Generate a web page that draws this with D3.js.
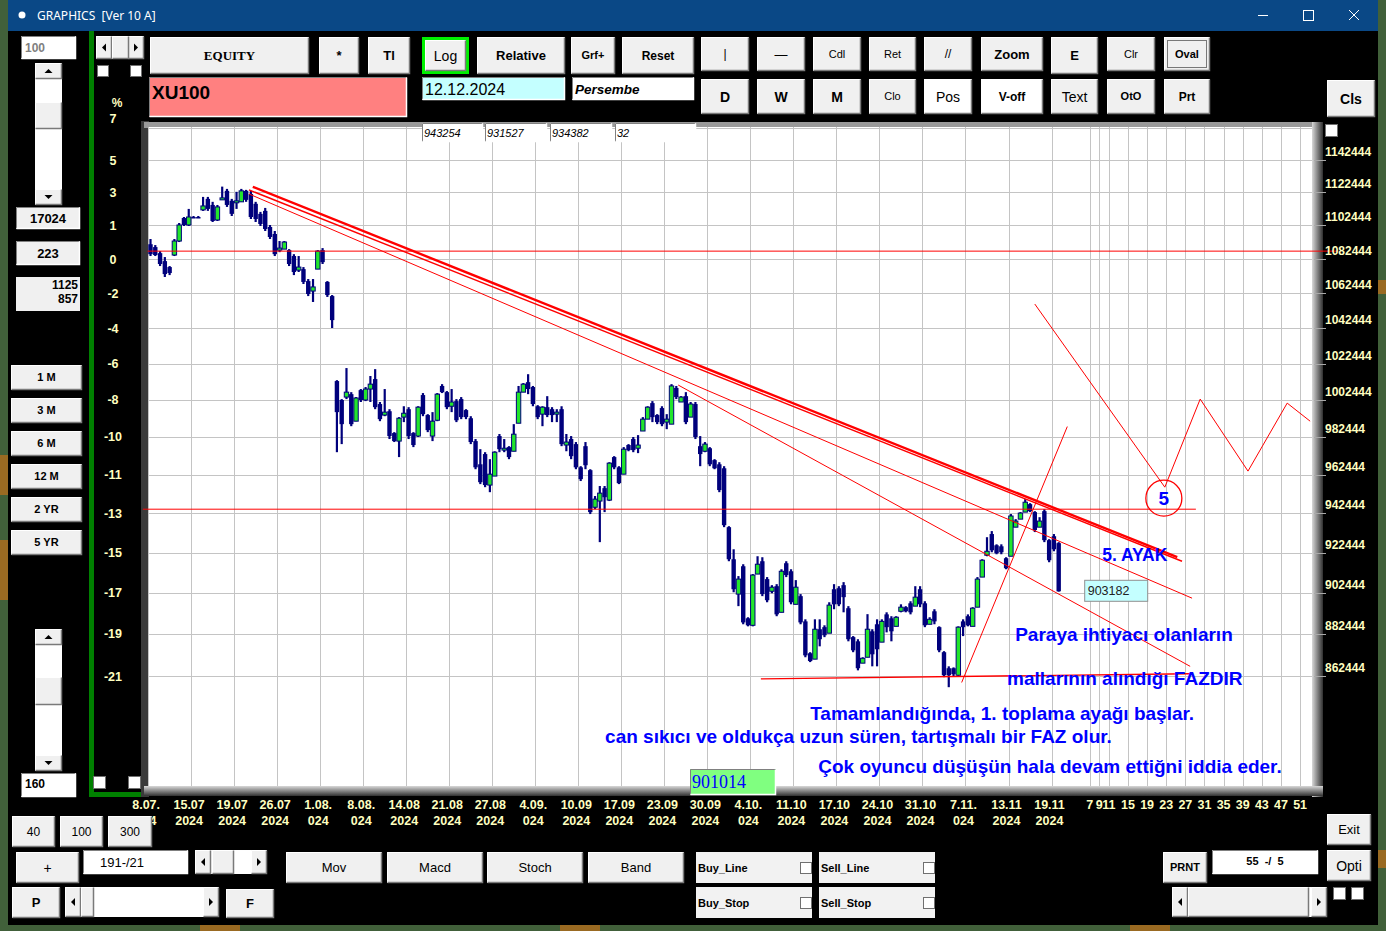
<!DOCTYPE html>
<html>
<head>
<meta charset="utf-8">
<script src="https://cdn.jsdelivr.net/npm/d3@7"></script>
<style>
  body { margin: 0; background: #3f5e37; overflow: hidden; }
  svg { display: block; }
  text { font-family: "Liberation Sans", Arial, sans-serif; }
</style>
</head>
<body>
<svg width="1386" height="931"></svg>
<script>
// ---- data (prices in thousands of index points, half-day bars) ----
const opens = [1091.2,1089.5,1085.9,1081.2,1077.7,1084.8,1093.1,1106.9,1102.7,1107.5,
  1107.5,1111.8,1118.5,1114.8,1105.7,1117.9,1123.4,1117.3,1116.1,1116.7,
  1123.4,1121.5,1115.5,1109.4,1111.2,1101.5,1097.3,1087.7,1088.3,1087.7,
  1084.2,1075.9,1076.5,1069.5,1063.7,1076.5,1087.7,1069.0,1060.8,1012.8,
  1002.4,1004.0,1005.6,990.9,1007.8,1002.4,1008.4,1013.9,1000.2,994.2,
  996.3,984.5,980.2,993.1,997.4,984.5,982.9,1005.1,994.2,982.9,
  991.4,1010.1,1006.7,999.0,1001.8,1002.9,996.9,992.5,980.2,967.9,
  973.3,957.0,961.7,982.9,975.4,977.0,974.8,989.8,1006.7,1012.2,
  1009.5,999.0,994.7,998.5,997.4,994.7,997.4,978.1,981.3,978.6,
  966.3,977.5,964.8,945.5,948.7,955.4,949.2,971.7,966.3,962.7,
  978.1,981.3,976.4,985.6,992.0,1000.7,994.2,998.0,990.4,989.3,
  1009.0,1001.3,1004.5,993.1,1000.2,977.5,974.8,976.4,970.1,967.9,
  965.8,935.3,919.1,901.8,915.6,890.0,886.6,911.7,918.1,909.2,
  903.2,905.7,892.9,917.1,913.1,896.8,900.8,888.5,873.2,870.4,
  884.7,885.7,882.8,904.2,904.7,906.2,894.9,880.9,878.9,868.5,
  871.3,883.7,887.1,878.5,891.9,890.0,886.1,893.4,895.4,897.3,
  895.9,904.2,897.3,887.1,893.4,885.7,873.7,866.1,866.1,862.8,
  888.5,891.0,886.1,895.4,910.2,921.1,931.8,926.1,925.6,919.6,
  920.6,935.3,939.4,943.0,947.1,943.0,935.3,943.5,928.7,930.7,
  927.2];
const highs = [1094.3,1090.7,1087.1,1083.6,1078.3,1094.3,1103.9,1107.5,1112.4,1108.1,
  1108.1,1119.7,1119.7,1116.7,1114.8,1126.0,1124.6,1118.5,1122.8,1124.6,
  1124.0,1123.4,1116.7,1110.6,1113.0,1102.7,1099.1,1093.1,1093.1,1088.3,
  1085.3,1084.2,1077.7,1070.7,1070.7,1087.7,1088.9,1069.5,1061.4,1013.3,
  1002.9,1020.0,1006.7,1004.0,1008.4,1009.5,1015.6,1019.4,1001.3,1008.4,
  997.4,985.0,993.1,999.0,998.5,985.0,999.0,1006.2,994.7,995.8,
  1006.2,1011.1,1007.3,1008.4,1002.9,1004.0,997.4,993.6,981.3,975.9,
  974.3,970.6,974.8,984.0,981.3,977.5,989.3,1010.1,1011.7,1016.6,
  1010.1,999.6,999.0,1004.5,998.5,997.4,999.0,984.0,982.9,979.7,
  966.9,979.7,965.3,951.3,956.5,956.5,969.0,972.2,966.9,977.0,
  978.6,982.4,983.4,993.1,999.0,1001.8,994.7,999.0,994.7,1011.1,
  1010.1,1004.5,1006.7,1001.3,1001.3,982.9,979.7,977.0,970.6,969.0,
  966.9,935.8,924.1,910.7,916.6,890.5,911.7,920.6,920.1,910.2,
  906.2,906.7,914.1,918.1,914.1,908.7,901.8,889.5,873.7,889.5,
  889.5,886.6,897.8,906.7,905.7,907.7,895.9,881.4,879.9,871.3,
  892.0,884.7,889.5,889.5,892.9,891.0,891.0,896.8,895.9,898.3,
  905.7,905.7,898.3,890.5,894.4,886.1,874.2,867.0,866.5,886.1,
  889.5,891.9,895.4,910.2,919.1,930.2,933.3,926.6,926.6,920.1,
  942.0,939.4,943.0,949.7,947.6,943.5,940.4,944.5,929.2,931.8,
  927.7];
const lows = [1084.2,1084.2,1078.3,1071.9,1073.0,1084.2,1092.5,1102.1,1102.1,1106.9,
  1106.9,1111.2,1111.2,1104.5,1105.1,1117.9,1113.6,1108.1,1112.4,1116.7,
  1116.7,1106.3,1104.5,1102.1,1099.1,1094.3,1084.2,1086.5,1088.3,1078.3,
  1073.0,1074.8,1067.8,1060.8,1057.4,1076.5,1079.5,1060.3,1042.5,974.3,
  978.6,1002.9,988.2,990.9,1001.3,1001.8,1001.3,997.4,990.9,993.6,
  981.3,979.7,971.7,990.4,981.3,977.0,982.4,993.6,985.0,980.2,
  990.9,1006.2,997.4,995.8,990.4,992.0,992.0,978.6,965.3,957.5,
  955.9,953.3,961.7,974.3,974.3,970.6,974.8,989.8,1006.7,1005.6,
  999.0,992.0,988.2,993.1,990.4,990.4,977.5,974.8,970.6,965.3,
  959.1,965.3,942.0,944.5,927.7,943.0,948.7,965.3,957.5,962.7,
  974.8,974.3,973.8,985.6,992.0,990.4,989.3,988.2,986.6,989.3,
  1002.9,1001.3,989.3,993.1,981.3,966.9,974.3,966.9,965.3,953.3,
  935.3,918.1,902.7,895.9,887.1,886.1,886.1,911.7,900.8,897.8,
  902.2,891.0,892.9,910.2,896.8,896.8,887.1,871.3,869.0,870.4,
  876.5,880.9,882.8,894.4,895.9,892.9,878.9,873.7,865.1,868.5,
  871.3,867.0,867.0,878.5,883.2,878.9,886.1,892.9,892.9,891.9,
  895.9,895.4,885.7,887.1,887.1,873.7,861.9,857.2,862.3,862.3,
  881.4,886.1,886.1,895.4,910.2,920.6,922.6,921.6,921.6,914.1,
  920.6,935.3,939.4,943.0,943.0,932.8,935.3,927.7,917.6,923.1,
  903.0];
const closes = [1085.3,1084.8,1079.5,1073.6,1074.2,1093.1,1102.7,1102.7,1107.5,1107.5,
  1107.5,1114.2,1112.4,1105.1,1113.6,1119.1,1114.8,1109.4,1117.3,1123.4,
  1117.9,1107.5,1106.3,1103.3,1100.3,1095.5,1085.3,1088.9,1092.5,1079.5,
  1074.8,1077.7,1069.0,1062.0,1066.1,1087.1,1080.6,1061.4,1047.0,995.8,
  989.3,1006.7,989.3,1003.5,1002.4,1008.4,1011.1,998.5,992.0,995.8,
  982.9,980.2,992.5,995.2,982.9,978.1,998.5,994.7,986.1,990.9,
  1005.6,1006.7,998.5,1001.3,991.4,993.1,993.1,979.7,966.3,958.5,
  957.0,962.7,974.3,975.9,976.4,971.7,983.9,1006.7,1011.1,1008.4,
  1000.2,993.1,998.5,994.2,994.2,995.8,978.6,979.7,972.2,966.3,
  960.1,967.4,943.0,949.7,952.8,950.7,968.5,966.3,958.0,975.9,
  975.4,975.4,978.1,992.0,998.5,993.1,990.4,989.3,992.0,1010.1,
  1004.0,1004.0,990.4,1000.2,982.4,973.3,978.6,967.9,965.8,954.4,
  936.3,919.1,904.2,909.2,888.0,886.6,911.2,916.6,901.8,898.8,
  905.2,891.9,913.1,911.2,897.8,905.2,888.0,872.2,869.5,884.7,
  879.9,881.8,896.4,896.8,896.8,900.3,879.9,874.6,866.1,870.8,
  884.7,872.7,875.1,888.5,885.7,883.7,890.5,895.4,893.4,892.9,
  900.3,896.8,886.6,889.5,888.5,874.6,862.8,862.8,863.3,885.7,
  885.7,886.6,894.9,909.2,918.6,923.1,923.6,922.1,922.6,914.6,
  941.0,938.4,942.5,948.1,943.5,933.8,938.4,928.7,918.6,924.1,
  903.182];

const dayLabels = ["8.07.","15.07","19.07","26.07","1.08.","8.08.","14.08","21.08","27.08","4.09.","10.09",
  "17.09","23.09","30.09","4.10.","11.10","17.10","24.10","31.10","7.11.","13.11","19.11"];
const yearLabels = ["024","2024","2024","2024","024","024","2024","2024","2024","024","2024",
  "2024","2024","2024","024","2024","2024","2024","2024","024","2024","2024"];
const futureBars = [7, 9, 11, 15, 19, 23, 27, 31, 35, 39, 43, 47, 51];
const priceTicks = [1142444,1122444,1102444,1082444,1062444,1042444,1022444,1002444,
  982444,962444,942444,922444,902444,882444,862444];
const pctLevels = [1162444].concat(priceTicks);
const pctLabels = ["7","5","3","1","0","-2","-4","-6","-8","-10","-11","-13","-15","-17","-19","-21"];

// user drawn objects: [bar index, price]
const trendThick = [[21.4, 1125900], [214.8, 920100]];
const trendThin1 = [[20.6, 1124000], [215.8, 918100]];
const trendThin2 = [[20.6, 1121500], [217.9, 899800]];
const trendLow = [[110.4, 1010600], [217.5, 867000]];
const riseLine = [[169.7, 859400], [191.8, 988000]];
const supportLine = [[127.7, 861100], [217.5, 863500]];
const levelTop = [[-0.6, 1087100], [248.3, 1087100]];
const levelMid = [[-1.6, 944500], [218.7, 944500]];
const forecast = [[185.0, 1056200], [212.2, 955900], [219.6, 1002900], [229.6, 964300],
  [237.8, 1000700], [242.6, 990900]];
const waveMark = { i: 212.0, p: 950200, label: "5" };
const notes = [
  { i: 199.1, p: 918100, text: "5. AYAK", size: 17.5 },
  { i: 180.9, p: 878900, text: "Paraya ihtiyacı olanların", size: 19 },
  { i: 179.2, p: 858300, text: "mallarının alındığı FAZDIR", size: 19 },
  { i: 138.0, p: 841900, text: "Tamamlandığında, 1. toplama ayağı başlar.", size: 19 },
  { i: 95.1, p: 831600, text: "can sıkıcı ve oldukça uzun süren, tartışmalı bir FAZ olur.", size: 19 },
  { i: 139.7, p: 818100, text: "Çok oyuncu düşüşün hala devam ettiğni iddia eder.", size: 19 }
];

const NAVY = "#00007c", GREEN = "#22e52c", RED = "#ff0000", PALE = "#ffffc0", BLUE = "#0000ff";
const plotL = 148, plotR = 1312, plotT = 127, plotB = 786;

const svg = d3.select("svg");

const xScale = d3.scaleLinear().domain([0, 190]).range([150.5, 150.5 + 190 * 4.78]);
const yScale = d3.scaleLog().domain([862444, 1142444]).range([676, 160]);

// ---- desktop + window ----
svg.append("rect").attr("width", 1386).attr("height", 931).attr("fill", "#41603a");
[[0, 455, 8, 40], [0, 540, 8, 60], [1378, 280, 8, 14], [1378, 850, 8, 18], [200, 925, 40, 6], [560, 925, 40, 6], [1130, 925, 40, 6]]
  .forEach(r => svg.append("rect").attr("x", r[0]).attr("y", r[1]).attr("width", r[2]).attr("height", r[3]).attr("fill", "#9a6a22"));
svg.append("rect").attr("x", 8).attr("y", 0).attr("width", 1370).attr("height", 925).attr("fill", "#000");
svg.append("rect").attr("x", 8).attr("y", 0).attr("width", 1370).attr("height", 31).attr("fill", "#0a4886");
svg.append("circle").attr("cx", 22).attr("cy", 15).attr("r", 3.5).attr("fill", "#fff");
svg.append("text").attr("x", 37).attr("y", 20).attr("fill", "#fff").style("font-size", "12px")
  .style("font-family", "'Noto Sans', sans-serif").style("white-space", "pre").text("GRAPHICS  [Ver 10 A]");
svg.append("line").attr("x1", 1258).attr("x2", 1268).attr("y1", 15.5).attr("y2", 15.5).attr("stroke", "#fff");
svg.append("rect").attr("x", 1303.5).attr("y", 10.5).attr("width", 10).attr("height", 10).attr("fill", "none").attr("stroke", "#fff");
svg.append("path").attr("d", "M1349,10L1359,20M1359,10L1349,20").attr("stroke", "#fff");

// green frame on the left
svg.append("rect").attr("x", 89).attr("y", 31).attr("width", 5).attr("height", 766).attr("fill", "#008000");
svg.append("rect").attr("x", 89).attr("y", 792).attr("width", 56).attr("height", 5).attr("fill", "#008000");

// ---- chart frame ----
const defs = svg.append("defs");
const gr = defs.append("linearGradient").attr("id", "shadeR");
gr.append("stop").attr("offset", "0").attr("stop-color", "#d8d8d8");
gr.append("stop").attr("offset", "1").attr("stop-color", "#303030");
const gb = defs.append("linearGradient").attr("id", "shadeB").attr("x1", 0).attr("x2", 0).attr("y1", 0).attr("y2", 1);
gb.append("stop").attr("offset", "0").attr("stop-color", "#d8d8d8");
gb.append("stop").attr("offset", "1").attr("stop-color", "#303030");
defs.append("clipPath").attr("id", "plotClip").append("rect")
  .attr("x", plotL).attr("y", plotT).attr("width", plotR - plotL).attr("height", plotB - plotT);

svg.append("rect").attr("x", 141).attr("y", 121).attr("width", 8).attr("height", 676).attr("fill", "#3a3a3a");
svg.append("rect").attr("x", 144).attr("y", 122).attr("width", 1176).attr("height", 6).attr("fill", "#9a9a9a");
svg.append("rect").attr("x", plotR).attr("y", 122).attr("width", 11).attr("height", 675).attr("fill", "url(#shadeR)");
svg.append("rect").attr("x", 144).attr("y", plotB).attr("width", 1179).attr("height", 10).attr("fill", "url(#shadeB)");
svg.append("rect").attr("x", plotL).attr("y", plotT).attr("width", plotR - plotL).attr("height", plotB - plotT).attr("fill", "#fff");

const plot = svg.append("g").attr("clip-path", "url(#plotClip)");

// grid
const gridX = dayLabels.map((d, k) => xScale(9 * k - 0.5)).concat(futureBars.map(n => xScale(190 + n - 0.5)));
plot.selectAll(".vgrid").data(gridX).join("line").attr("class", "vgrid")
  .attr("x1", d => Math.round(d) + 0.5).attr("x2", d => Math.round(d) + 0.5)
  .attr("y1", plotT).attr("y2", plotB).attr("stroke", "#c4c4c4");
plot.selectAll(".hgrid").data(pctLevels).join("line").attr("class", "hgrid")
  .attr("x1", plotL).attr("x2", plotR)
  .attr("y1", d => Math.round(yScale(d)) + 0.5).attr("y2", d => Math.round(yScale(d)) + 0.5)
  .attr("stroke", "#c4c4c4");

// candles
const candles = closes.map((c, i) => ({ i, o: opens[i] * 1000, h: highs[i] * 1000, l: lows[i] * 1000, c: c * 1000 }));
plot.selectAll(".wick").data(candles).join("line").attr("class", "wick")
  .attr("x1", d => xScale(d.i)).attr("x2", d => xScale(d.i))
  .attr("y1", d => yScale(d.h)).attr("y2", d => yScale(d.l))
  .attr("stroke", NAVY).attr("stroke-width", 2.2);
plot.selectAll(".body").data(candles).join("rect").attr("class", "body")
  .attr("x", d => xScale(d.i) - 2.2).attr("width", 4.4)
  .attr("y", d => yScale(Math.max(d.o, d.c)))
  .attr("height", d => Math.max(1.5, Math.abs(yScale(d.o) - yScale(d.c))))
  .attr("fill", d => d.c > d.o ? GREEN : NAVY)
  .attr("stroke", NAVY).attr("stroke-width", d => d.c > d.o ? 1 : 0);

// user drawings
const line = d3.line().x(d => xScale(d[0])).y(d => yScale(d[1]));
const over = svg.append("g");
over.append("path").datum(levelTop).attr("d", line).attr("stroke", RED).attr("fill", "none");
over.append("path").datum(levelMid).attr("d", line).attr("stroke", RED).attr("fill", "none");
[[trendThick, 2.4], [trendThin1, 1.4], [trendThin2, 1], [trendLow, 1], [riseLine, 1], [supportLine, 1.4], [forecast, 1]]
  .forEach(([pts, w]) => plot.append("path").datum(pts).attr("d", line)
    .attr("stroke", RED).attr("stroke-width", w).attr("fill", "none"));
plot.append("circle").attr("cx", xScale(waveMark.i)).attr("cy", yScale(waveMark.p)).attr("r", 18)
  .attr("fill", "none").attr("stroke", RED).attr("stroke-width", 1.3);
plot.append("text").attr("x", xScale(waveMark.i)).attr("y", yScale(waveMark.p) + 7)
  .attr("text-anchor", "middle").attr("fill", BLUE).style("font-size", "19px").style("font-weight", "bold")
  .text(waveMark.label);
plot.selectAll(".note").data(notes).join("text").attr("class", "note")
  .attr("x", d => xScale(d.i)).attr("y", d => yScale(d.p))
  .attr("fill", BLUE).style("font-size", d => d.size + "px").style("font-weight", "bold")
  .text(d => d.text);

// last price box
const last = candles[candles.length - 1];
const lbx = xScale(last.i) + 26, lby = yScale(last.c);
svg.append("rect").attr("x", lbx).attr("y", lby - 11).attr("width", 63).attr("height", 21)
  .attr("fill", "#c4ffff").attr("stroke", "#909090");
svg.append("text").attr("x", lbx + 3).attr("y", lby + 4).style("font-size", "12.5px").attr("fill", "#222")
  .text(d3.format("d")(Math.round(last.c)));

// ---- axes ----
svg.selectAll(".rtick").data(priceTicks).join("line").attr("class", "rtick")
  .attr("x1", plotR + 2).attr("x2", 1326)
  .attr("y1", d => Math.round(yScale(d)) + 0.5).attr("y2", d => Math.round(yScale(d)) + 0.5)
  .attr("stroke", "#a8a8a8");
svg.selectAll(".rlab").data(priceTicks).join("text").attr("class", "rlab")
  .attr("x", 1325).attr("y", d => yScale(d) - 4)
  .attr("fill", PALE).style("font-size", "12px").style("font-weight", "bold")
  .text(d => d);
svg.selectAll(".plab").data(pctLevels).join("text").attr("class", "plab")
  .attr("x", 113).attr("y", (d, k) => yScale(d) + (k === 0 ? -5 : 4.5))
  .attr("text-anchor", "middle").attr("fill", PALE).style("font-size", "12.5px").style("font-weight", "bold")
  .text((d, k) => pctLabels[k]);
svg.append("text").attr("x", 117).attr("y", 107).attr("text-anchor", "middle").attr("fill", PALE)
  .style("font-size", "12px").style("font-weight", "bold").text("%");

svg.selectAll(".dlab").data(dayLabels).join("text").attr("class", "dlab")
  .attr("x", (d, k) => xScale(9 * k - 0.5) - 2).attr("y", 809)
  .attr("text-anchor", "middle").attr("fill", PALE).style("font-size", "12.5px").style("font-weight", "bold")
  .text(d => d);
svg.selectAll(".ylab").data(yearLabels).join("text").attr("class", "ylab")
  .attr("x", (d, k) => xScale(9 * k - 0.5) - 2).attr("y", 825)
  .attr("text-anchor", "middle").attr("fill", PALE).style("font-size", "12.5px").style("font-weight", "bold")
  .text(d => d);
svg.selectAll(".flab").data(futureBars).join("text").attr("class", "flab")
  .attr("x", d => xScale(190 + d - 0.5)).attr("y", 809)
  .attr("text-anchor", "middle").attr("fill", PALE).style("font-size", "12.5px").style("font-weight", "bold")
  .text(d => d);

// ---- window controls ----
const ui = svg.append("g");
function bevel(x, y, w, h, fill, sunken) {
  ui.append("rect").attr("x", x).attr("y", y).attr("width", w).attr("height", h).attr("fill", fill);
  const a = sunken ? "#808080" : "#ffffff", b = sunken ? "#ffffff" : "#7a7a7a";
  ui.append("path").attr("d", `M${x + 0.5},${y + h - 0.5}V${y + 0.5}H${x + w - 0.5}`).attr("stroke", a).attr("fill", "none");
  ui.append("path").attr("d", `M${x + 0.5},${y + h - 0.5}H${x + w - 0.5}V${y + 0.5}`).attr("stroke", b).attr("stroke-width", 1.5).attr("fill", "none");
}
function label(x, y, txt, o = {}) {
  ui.append("text").attr("x", x).attr("y", y).attr("text-anchor", o.anchor || "middle")
    .attr("fill", o.color || "#000").style("font-size", (o.size || 13) + "px")
    .style("font-weight", o.weight || "bold").style("font-style", o.style || "normal")
    .style("font-family", o.family || null).style("white-space", "pre").text(txt);
}
function button(x1, y1, x2, y2, txt, o = {}) {
  bevel(x1, y1, x2 - x1, y2 - y1, o.fill || "#f0f0f0", false);
  label((x1 + x2) / 2, (y1 + y2) / 2 + (o.size || 13) * 0.36, txt, o);
}
function box(x1, y1, x2, y2, fill) { bevel(x1, y1, x2 - x1, y2 - y1, fill, true); }
function check(x, y, s) {
  ui.append("rect").attr("x", x + 0.5).attr("y", y + 0.5).attr("width", s).attr("height", s)
    .attr("fill", "#fff").attr("stroke", "#707070");
}
function arrowBtn(x, y, w, h, dir) {
  bevel(x, y, w, h, "#f0f0f0", false);
  const cx = x + w / 2, cy = y + h / 2;
  const d = dir === "l" ? `M${cx + 2},${cy - 4}L${cx - 2},${cy}L${cx + 2},${cy + 4}Z`
    : dir === "r" ? `M${cx - 2},${cy - 4}L${cx + 2},${cy}L${cx - 2},${cy + 4}Z`
    : dir === "u" ? `M${cx - 4},${cy + 2}L${cx},${cy - 2}L${cx + 4},${cy + 2}Z`
    : `M${cx - 4},${cy - 2}L${cx},${cy + 2}L${cx + 4},${cy - 2}Z`;
  ui.append("path").attr("d", d).attr("fill", "#000");
}
function hscroll(x1, y1, x2, y2, t1, t2) {
  ui.append("rect").attr("x", x1).attr("y", y1).attr("width", x2 - x1).attr("height", y2 - y1).attr("fill", "#fff");
  arrowBtn(x1, y1, 16, y2 - y1, "l");
  arrowBtn(x2 - 16, y1, 16, y2 - y1, "r");
  bevel(t1, y1, t2 - t1, y2 - y1, "#f0f0f0", false);
}
function vscroll(x1, y1, x2, y2, t1, t2) {
  ui.append("rect").attr("x", x1).attr("y", y1).attr("width", x2 - x1).attr("height", y2 - y1).attr("fill", "#fff");
  arrowBtn(x1, y1, x2 - x1, 16, "u");
  arrowBtn(x1, y2 - 16, x2 - x1, 16, "d");
  bevel(x1, t1, x2 - x1, t2 - t1, "#f0f0f0", false);
}

// top toolbar
button(150, 37, 309, 74, "EQUITY", { family: "'Liberation Serif', serif", size: 13 });
button(319, 37, 359, 74, "*", { size: 13 });
button(368, 37, 410, 74, "Tl", { size: 13 });
ui.append("rect").attr("x", 422).attr("y", 37).attr("width", 47).attr("height", 37).attr("fill", "#00f000");
button(425, 40, 466, 71, "Log", { size: 14, weight: "normal" });
button(477, 37, 565, 74, "Relative", { size: 13 });
button(571, 37, 615, 74, "Grf+", { size: 11 });
button(622, 37, 694, 74, "Reset", { size: 12 });
const row1 = [["|", 701, 749, 12, "normal"], ["—", 757, 805, 13, "normal"], ["Cdl", 813, 861, 11, "normal"],
  ["Ret", 869, 916, 11, "normal"], ["//", 924, 972, 12, "normal"], ["Zoom", 981, 1043, 13, "bold"],
  ["Clr", 1107, 1155, 11, "normal"], ["Oval", 1164, 1210, 11, "bold"]];
row1.forEach(r => button(r[1], 37, r[2], 71, r[0], { size: r[3], weight: r[4] }));
button(1051, 37, 1098, 74, "E", { size: 13 });
ui.append("rect").attr("x", 1167.5).attr("y", 40.5).attr("width", 39).attr("height", 27)
  .attr("fill", "none").attr("stroke", "#000").attr("stroke-dasharray", "1,1");
const row2 = [["D", 701, 749, 14, "bold"], ["W", 757, 805, 14, "bold"], ["M", 813, 861, 14, "bold"],
  ["Clo", 869, 916, 11, "normal"], ["Pos", 924, 972, 14, "normal", "#fff"], ["V-off", 981, 1043, 12, "bold", "#fff"],
  ["Text", 1051, 1098, 14, "normal"], ["OtO", 1107, 1155, 11, "bold"], ["Prt", 1164, 1210, 12, "bold"]];
row2.forEach(r => button(r[1], 79, r[2], 114, r[0], { size: r[3], weight: r[4], fill: r[5] }));
button(1327, 80, 1375, 117, "Cls", { size: 14 });
check(1325, 124, 12);

// info boxes
box(149, 77, 407, 117, "#ff8080");
label(152, 99, "XU100", { anchor: "start", size: 19 });
box(422, 77, 565, 100, "#c4ffff");
label(425, 95, "12.12.2024", { anchor: "start", size: 16, weight: "normal" });
box(572, 77, 694, 100, "#ffffff");
label(575, 94, "Persembe", { anchor: "start", size: 13.5, style: "italic" });
[["943254", 422, 483], ["931527", 485, 547], ["934382", 550, 612], ["32", 615, 696]].forEach(b => {
  box(b[1], 123, b[2], 142, "#ffffff");
  label(b[1] + 2, 137, b[0], { anchor: "start", size: 11, weight: "normal", style: "italic" });
});

// left panel
box(21, 36, 76, 59, "#ffffff");
label(25, 52, "100", { anchor: "start", size: 12, color: "#808080" });
vscroll(35, 63, 62, 205, 102, 129);
hscroll(96, 36, 144, 59, 112, 129);
check(97, 65, 11); check(130, 65, 11);
box(16, 207, 80, 229, "#f0f0f0");
label(48, 223, "17024", { size: 13 });
box(16, 241, 80, 265, "#f0f0f0");
label(48, 258, "223", { size: 13 });
ui.append("rect").attr("x", 16).attr("y", 277).attr("width", 64).attr("height", 34).attr("fill", "#f0f0f0");
label(78, 289, "1125", { anchor: "end", size: 12 });
label(78, 303, "857", { anchor: "end", size: 12 });
[["1 M", 365], ["3 M", 398], ["6 M", 431], ["12 M", 464], ["2 YR", 497], ["5 YR", 530]]
  .forEach(b => button(11, b[1], 82, b[1] + 25, b[0], { size: 11 }));
vscroll(35, 629, 62, 771, 677, 705);
box(21, 773, 76, 797, "#ffffff");
label(25, 788, "160", { anchor: "start", size: 12 });
check(93, 776, 12); check(128, 776, 12);

// bottom panel
button(12, 816, 55, 847, "40", { size: 12, weight: "normal" });
button(60, 816, 103, 847, "100", { size: 12, weight: "normal" });
button(108, 816, 152, 847, "300", { size: 12, weight: "normal" });
button(16, 852, 79, 883, "+", { size: 14, weight: "normal" });
box(83, 850, 188, 874, "#ffffff");
label(122, 867, "191-/21", { size: 13, weight: "normal" });
hscroll(195, 850, 267, 874, 212, 234);
button(12, 887, 60, 918, "P", { size: 13 });
hscroll(65, 887, 219, 917, 81, 94);
button(226, 889, 274, 918, "F", { size: 13 });
[["Mov", 286, 382], ["Macd", 387, 483], ["Stoch", 487, 583], ["Band", 588, 684]]
  .forEach(b => button(b[1], 852, b[2], 883, b[0], { size: 13, weight: "normal" }));
[["Buy_Line", 696, 852], ["Sell_Line", 819, 852], ["Buy_Stop", 696, 887], ["Sell_Stop", 819, 887]].forEach(b => {
  ui.append("rect").attr("x", b[1]).attr("y", b[2]).attr("width", 116).attr("height", 31).attr("fill", "#f2f2f2");
  label(b[1] + 2, b[2] + 20, b[0], { anchor: "start", size: 11 });
  check(b[1] + 104, b[2] + 10, 11);
});
button(1163, 852, 1207, 883, "PRNT", { size: 11 });
box(1212, 850, 1318, 874, "#ffffff");
label(1265, 865, "55  -/  5", { size: 11 });
button(1327, 814, 1371, 845, "Exit", { size: 13, weight: "normal" });
button(1327, 850, 1371, 881, "Opti", { size: 14, weight: "normal" });
hscroll(1172, 887, 1327, 917, 1188, 1309);
check(1333, 887, 12); check(1351, 887, 12);

// cursor price box
box(690, 769, 776, 795, "#80ff80");
label(692, 788, "901014", { anchor: "start", size: 18, weight: "normal", color: BLUE, family: "'Liberation Serif', serif" });
</script>
</body>
</html>
